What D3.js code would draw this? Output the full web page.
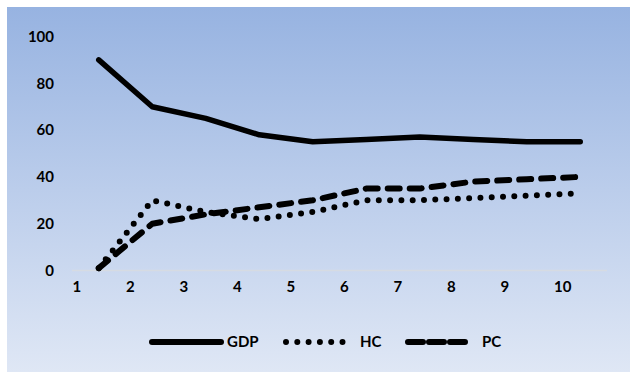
<!DOCTYPE html>
<html><head><meta charset="utf-8">
<script src="https://cdn.jsdelivr.net/npm/d3@7"></script>
<style>body{margin:0;background:#fff}svg{display:block}text{font-family:Lato,"Open Sans",sans-serif;font-weight:bold;fill:#000}</style>
</head><body>
<script>
const categories = ["1","2","3","4","5","6","7","8","9","10"];
const gdp = [90,70,65,58,55,56,57,56,55,55];
const hc  = [1,30,25,22,25,30,30,31,32,33];
const pc  = [1,20,24,27,30,35,35,38,39,40];
const yTicks = [0,20,40,60,80,100];
const seriesNames = ["GDP","HC","PC"];

const W=630,H=372;
const FS="15px";
const svg=d3.select("body").append("svg").attr("width",W).attr("height",H);
const defs=svg.append("defs");
const g=defs.append("linearGradient").attr("id","bg").attr("x1",0).attr("y1",0).attr("x2",0).attr("y2",1);
g.append("stop").attr("offset","0%").attr("stop-color","#97b3e1");
g.append("stop").attr("offset","100%").attr("stop-color","#dfe7f5");
svg.append("rect").attr("x",7).attr("y",7).attr("width",W-7).attr("height",H-7).attr("fill","url(#bg)");

const x=d3.scaleBand().domain(categories).range([72,607]);
const y=d3.scaleLinear().domain([0,100]).range([270.5,36.5]);

// zero gridline
svg.append("line").attr("x1",72).attr("x2",607).attr("y1",y(0)).attr("y2",y(0)).attr("stroke","#d6dbe2").attr("stroke-width",1.5);

// y axis
const ya=svg.append("g").attr("transform","translate(54,0)").call(d3.axisLeft(y).tickValues(yTicks).tickSize(0).tickPadding(0));
ya.select(".domain").remove();
ya.selectAll("text").style("font-size",FS).attr("text-anchor","end");

// x axis
const xa=svg.append("g").attr("transform",`translate(0,${y(0)+8})`).call(d3.axisBottom(x).tickSize(0).tickPadding(0));
xa.select(".domain").remove();
xa.selectAll("text").style("font-size",FS).attr("text-anchor","start").attr("x",-x.bandwidth()/2+0.5).attr("dy","0.9em");

const styles={GDP:{dash:null},HC:{dash:"0 11.3"},PC:{dash:"12 10"}};
const data={GDP:gdp,HC:hc,PC:pc};
const line=d3.line().x((d,i)=>x(categories[i])+x.bandwidth()/2).y(d=>y(d));
seriesNames.forEach(n=>{
  svg.append("path").datum(data[n]).attr("d",line).attr("fill","none").attr("stroke","#000")
    .attr("stroke-width",n==="GDP"?5.5:6).attr("stroke-linecap","round").attr("stroke-linejoin","round")
    .attr("stroke-dasharray",styles[n].dash);
});

// legend
const leg=[{n:"GDP",x1:152,x2:221,tx:227},{n:"HC",x1:286,x2:345,tx:360},{n:"PC",x1:408,x2:468,tx:482}];
const ly=342;
leg.forEach(l=>{
  svg.append("line").attr("x1",l.x1).attr("x2",l.x2).attr("y1",ly).attr("y2",ly).attr("stroke","#000")
   .attr("stroke-width",6).attr("stroke-linecap","round").attr("stroke-dasharray",l.n==="PC"?"15 6":styles[l.n].dash);
  svg.append("text").attr("x",l.tx).attr("y",ly).attr("dy","0.35em").style("font-size",FS).text(l.n);
});
</script>
</body></html>
